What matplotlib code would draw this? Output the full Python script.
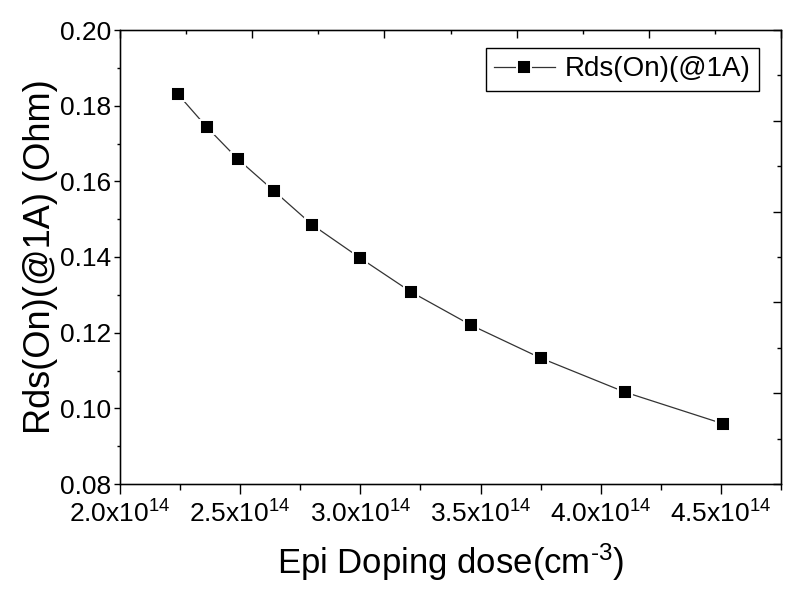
import matplotlib
matplotlib.use('Agg')
import matplotlib.pyplot as plt
from matplotlib.ticker import MultipleLocator, FuncFormatter

# data
doping = [2.24e14, 2.36e14, 2.49e14, 2.64e14, 2.80e14, 3.00e14,
          3.21e14, 3.46e14, 3.75e14, 4.10e14, 4.51e14]
rds_on = [0.1831, 0.1744, 0.1659, 0.1575, 0.1485, 0.1397,
          0.1308, 0.1220, 0.1133, 0.1043, 0.0959]
series_name = 'Rds(On)(@1A)'

plt.rcParams['font.family'] = ['Liberation Sans', 'DejaVu Sans']
plt.rcParams['mathtext.default'] = 'regular'

fig = plt.figure(figsize=(7.99, 5.95), dpi=100)
ax = fig.add_axes([120 / 799, 1 - 484 / 595, 661 / 799, 454 / 595])

ax.plot(doping, rds_on, color='#333333', lw=0.9, marker='s', ms=9.4,
        mfc='black', mec='white', mew=1.4, label=series_name)

ax.set_xlim(2.0e14, 4.75e14)
ax.set_ylim(0.08, 0.20)
ax.xaxis.set_major_locator(MultipleLocator(0.5e14))
ax.xaxis.set_minor_locator(MultipleLocator(0.25e14))
ax.yaxis.set_major_locator(MultipleLocator(0.02))
ax.yaxis.set_minor_locator(MultipleLocator(0.01))


def sci_fmt(v, pos):
    return '%.1fx10$^{14}$' % (v / 1e14)


ax.xaxis.set_major_formatter(FuncFormatter(sci_fmt))
ax.yaxis.set_major_formatter(FuncFormatter(lambda v, p: '%.2f' % v))

ax.tick_params(axis='x', which='major', direction='out', length=7, width=1,
               labelsize=19, pad=5)
ax.tick_params(axis='x', which='minor', direction='out', length=4, width=1)
ax.tick_params(axis='y', which='major', direction='out', length=4.5, width=1,
               labelsize=19, pad=2)
ax.tick_params(axis='y', which='minor', direction='out', length=2, width=1)
for s in ax.spines.values():
    s.set_linewidth(1.0)

ax.set_xlabel('Epi Doping dose(cm$^{\u20103}$)', fontsize=25, labelpad=10)
ax.set_ylabel('Rds(On)(@1A) (Ohm)', fontsize=26, labelpad=1)

# top and right axes with their own tick divisions
top = ax.twiny()
top.set_xlim(0, 10)
top.xaxis.set_major_locator(MultipleLocator(2))
top.xaxis.set_minor_locator(MultipleLocator(1))
top.tick_params(axis='x', which='major', direction='in', length=6, width=1,
                labeltop=False)
top.tick_params(axis='x', which='minor', direction='in', length=3, width=1)

right = ax.twinx()
right.set_ylim(0, 10)
right.yaxis.set_major_locator(MultipleLocator(2))
right.yaxis.set_minor_locator(MultipleLocator(1))
right.tick_params(axis='y', which='major', direction='in', length=6, width=1,
                  labelright=False)
right.tick_params(axis='y', which='minor', direction='in', length=3, width=1)

leg = ax.legend(loc='upper right', bbox_to_anchor=(0.967, 0.960),
                borderaxespad=0, fontsize=20, fancybox=False,
                edgecolor='black', framealpha=1, handlelength=2.2,
                handletextpad=0.36, borderpad=0.3)
leg.get_frame().set_linewidth(1.0)
leg.set_zorder(5)

fig.savefig('out.png', dpi=100)
plt.close()
